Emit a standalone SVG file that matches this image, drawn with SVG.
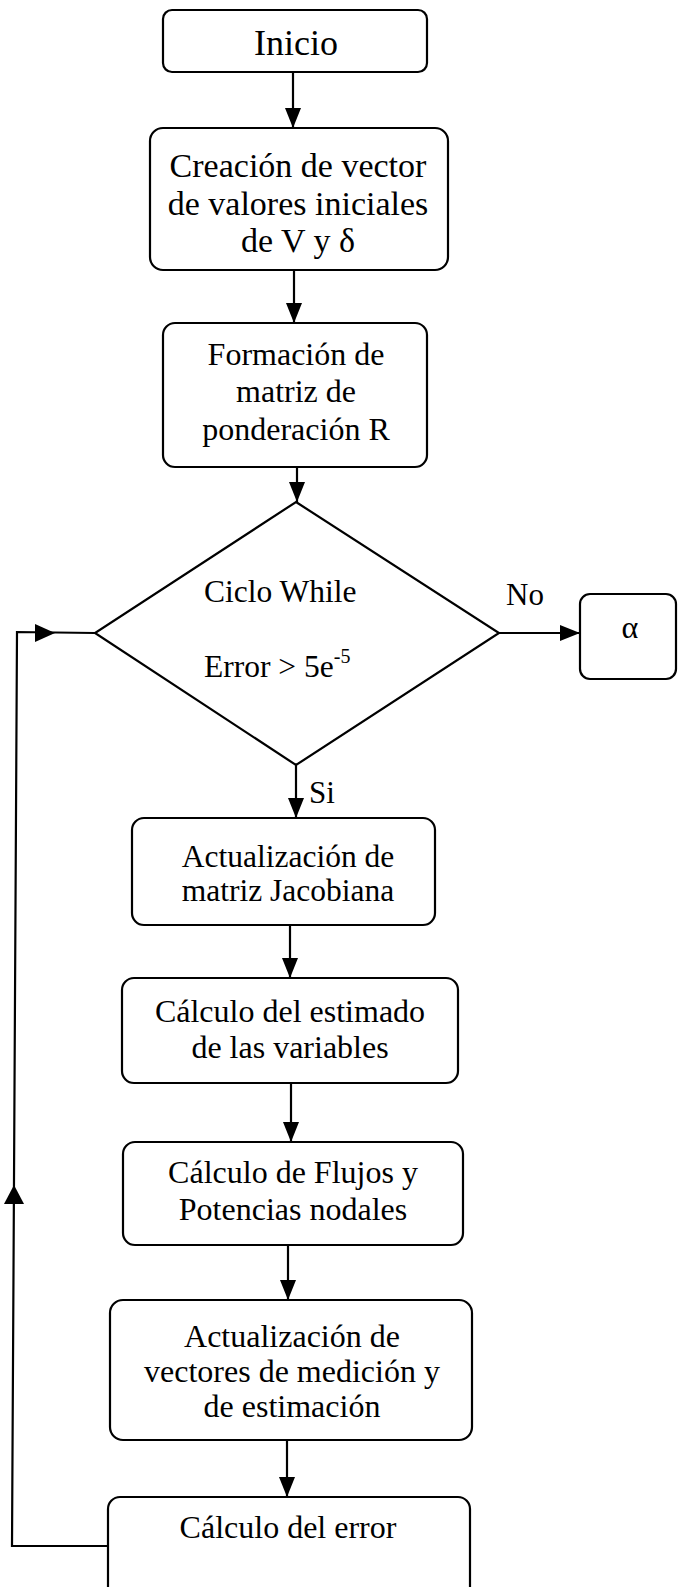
<svg xmlns="http://www.w3.org/2000/svg" width="678" height="1587" viewBox="0 0 678 1587">
<defs>
<style>
.box{fill:#fff;stroke:#000;stroke-width:2.2}
.t{font-family:"Liberation Serif","Times New Roman",serif;fill:#000;text-anchor:middle}
.l{font-family:"Liberation Serif","Times New Roman",serif;fill:#000}
.c{fill:none;stroke:#000;stroke-width:2.2}
.ah{fill:#000;stroke:none}
</style>
<marker id="arr" markerUnits="userSpaceOnUse" markerWidth="20" markerHeight="16" refX="20" refY="8" orient="auto">
<path d="M0,0 L20,8 L0,16 z" fill="#000"/>
</marker>
</defs>
<rect width="678" height="1587" fill="#fff"/>
<g id="connectors">
<line class="c" x1="293" y1="72" x2="293" y2="128" marker-end="url(#arr)"/>
<line class="c" x1="294" y1="270" x2="294" y2="323" marker-end="url(#arr)"/>
<line class="c" x1="297" y1="467" x2="297" y2="502" marker-end="url(#arr)"/>
<line class="c" x1="296" y1="765" x2="296" y2="818" marker-end="url(#arr)"/>
<line class="c" x1="290" y1="925" x2="290" y2="978" marker-end="url(#arr)"/>
<line class="c" x1="291" y1="1083" x2="291" y2="1142" marker-end="url(#arr)"/>
<line class="c" x1="288" y1="1245" x2="288" y2="1300" marker-end="url(#arr)"/>
<line class="c" x1="287" y1="1440" x2="287" y2="1497" marker-end="url(#arr)"/>
<line class="c" x1="499" y1="633" x2="580" y2="633" marker-end="url(#arr)"/>
<polyline class="c" points="108,1546 12,1546 17,632 95,633"/>
<polygon class="ah" points="14,1185 4,1204 24,1204"/>
<polygon class="ah" points="55,633 35,624 35,642"/>
<text class="l" x="506" y="605" font-size="31">No</text>
<text class="l" x="309" y="803" font-size="31">Si</text>
</g>
<g id="n-inicio">
<rect class="box" x="163" y="10" width="264" height="62" rx="9"/>
<text class="t" x="296" y="55" font-size="36">Inicio</text>
</g>
<g id="n-creacion">
<rect class="box" x="150" y="128" width="298" height="142" rx="13"/>
<text class="t" font-size="34"><tspan x="298" y="177">Creación de vector</tspan><tspan x="298" y="215">de valores iniciales</tspan><tspan x="298" y="252">de V y δ</tspan></text>
</g>
<g id="n-formacion">
<rect class="box" x="163" y="323" width="264" height="144" rx="12"/>
<text class="t" font-size="32"><tspan x="296" y="365">Formación de</tspan><tspan x="296" y="402">matriz de</tspan><tspan x="296" y="440">ponderación R</tspan></text>
</g>
<g id="n-ciclo">
<polygon class="box" points="296,502 499,633 296,765 95,633"/>
<text class="l" x="204" y="602" font-size="31.5">Ciclo While</text>
<text class="l" x="204" y="677" font-size="31.5">Error &gt; 5e<tspan font-size="20" dy="-14">-5</tspan></text>
</g>
<g id="n-alpha">
<rect class="box" x="580" y="594" width="96" height="85" rx="10"/>
<text class="t" x="630" y="638" font-size="32">α</text>
</g>
<g id="n-jacobiana">
<rect class="box" x="132" y="818" width="303" height="107" rx="12"/>
<text class="t" font-size="31.5"><tspan x="288" y="867">Actualización de</tspan><tspan x="288" y="901">matriz Jacobiana</tspan></text>
</g>
<g id="n-estimado">
<rect class="box" x="122" y="978" width="336" height="105" rx="12"/>
<text class="t" font-size="32"><tspan x="290" y="1022">Cálculo del estimado</tspan><tspan x="290" y="1058">de las variables</tspan></text>
</g>
<g id="n-flujos">
<rect class="box" x="123" y="1142" width="340" height="103" rx="12"/>
<text class="t" font-size="32"><tspan x="293" y="1183">Cálculo de Flujos y</tspan><tspan x="293" y="1220">Potencias nodales</tspan></text>
</g>
<g id="n-vectores">
<rect class="box" x="110" y="1300" width="362" height="140" rx="13"/>
<text class="t" font-size="32"><tspan x="292" y="1347">Actualización de</tspan><tspan x="292" y="1382">vectores de medición y</tspan><tspan x="292" y="1417">de estimación</tspan></text>
</g>
<g id="n-error">
<rect class="box" x="108" y="1497" width="362" height="115" rx="12"/>
<text class="t" x="288" y="1538" font-size="32">Cálculo del error</text>
</g>
</svg>
